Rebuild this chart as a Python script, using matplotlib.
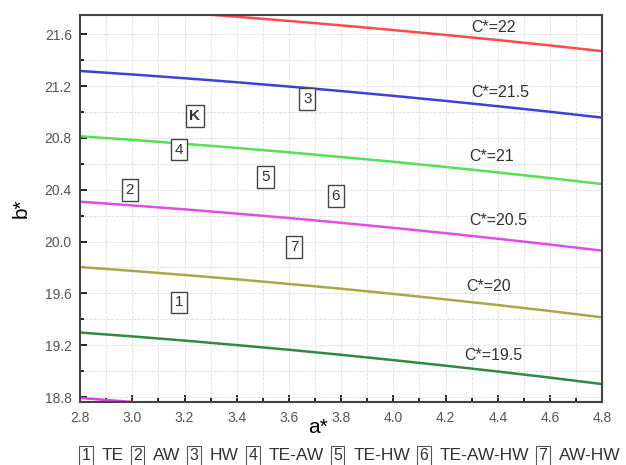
import matplotlib.pyplot as plt
from matplotlib.ticker import MultipleLocator

plt.rcParams['font.family'] = ['Liberation Sans', 'DejaVu Sans']

# a* sample points and b* values
a_vals = [2.8, 3.0, 3.2, 3.4, 3.6, 3.8, 4.0, 4.2, 4.4, 4.6, 4.8]
b_c22 = [21.821, 21.794, 21.766, 21.736, 21.703, 21.669, 21.633, 21.595, 21.556, 21.514, 21.470]
b_c215 = [21.317, 21.290, 21.261, 21.230, 21.197, 21.162, 21.125, 21.086, 21.045, 21.002, 20.957]
b_c21 = [20.813, 20.785, 20.755, 20.723, 20.689, 20.653, 20.616, 20.576, 20.534, 20.490, 20.444]
b_c205 = [20.308, 20.279, 20.249, 20.216, 20.182, 20.145, 20.106, 20.065, 20.022, 19.977, 19.930]
b_c20 = [19.803, 19.774, 19.742, 19.709, 19.673, 19.636, 19.596, 19.554, 19.510, 19.464, 19.415]
b_c195 = [19.298, 19.268, 19.236, 19.201, 19.165, 19.126, 19.085, 19.042, 18.997, 18.950, 18.900]
a_c19 = [2.8, 2.9, 3.0]
b_c19 = [18.793, 18.777, 18.762]

curve_labels = ['C*=22', 'C*=21.5', 'C*=21', 'C*=20.5', 'C*=20', 'C*=19.5']
label_a = [4.30, 4.30, 4.29, 4.29, 4.28, 4.27]
label_b = [21.65, 21.15, 20.66, 20.16, 19.65, 19.12]

box_text = ['1', '2', '3', '4', '5', '6', '7', 'K']
box_a = [3.18, 2.99, 3.67, 3.18, 3.51, 3.78, 3.62, 3.24]
box_b = [19.53, 20.40, 21.10, 20.71, 20.50, 20.35, 19.96, 20.97]

legend_nums = ['1', '2', '3', '4', '5', '6', '7']
legend_names = ['TE', 'AW', 'HW', 'TE-AW', 'TE-HW', 'TE-AW-HW', 'AW-HW']

fig = plt.figure(figsize=(6.26, 4.65), dpi=100)
ax = fig.add_axes([0.128, 0.135, 0.834, 0.833])

ax.plot(a_vals, b_c22, color='#ff4a4a', lw=1.8)
ax.plot(a_vals, b_c215, color='#4040d8', lw=1.8)
ax.plot(a_vals, b_c21, color='#55e055', lw=1.8)
ax.plot(a_vals, b_c205, color='#e050e0', lw=1.8)
ax.plot(a_vals, b_c20, color='#a8a848', lw=1.8)
ax.plot(a_vals, b_c195, color='#2e8a44', lw=1.8)
ax.plot(a_c19, b_c19, color='#e040e0', lw=1.8)

for t, x, y in zip(curve_labels, label_a, label_b):
    ax.text(x, y, t, fontsize=11.5, color='#333333', va='center', ha='left')

for t, x, y in zip(box_text, box_a, box_b):
    ax.text(x, y, t, fontsize=11, color='#333333', ha='center', va='center',
            fontweight='bold' if t == 'K' else 'normal',
            bbox=dict(boxstyle='square,pad=0.25', fc='white', ec='#444444', lw=1))

ax.set_xlim(2.8, 4.8)
ax.set_ylim(18.76, 21.75)
ax.xaxis.set_major_locator(MultipleLocator(0.2))
ax.xaxis.set_minor_locator(MultipleLocator(0.1))
ax.yaxis.set_major_locator(MultipleLocator(0.4))
ax.yaxis.set_minor_locator(MultipleLocator(0.2))
ax.tick_params(which='both', direction='in', labelsize=10, labelcolor='#555555', width=1.2)
ax.tick_params(which='major', length=5, pad=6)
ax.tick_params(which='minor', length=3)
ax.grid(which='both', color='#dddddd', lw=0.6, ls='--')
for s in ax.spines.values():
    s.set_linewidth(1.5)
    s.set_color('#444444')

ax.set_xlabel('a*', fontsize=15, labelpad=0)
ax.xaxis.set_label_coords(0.455, -0.04)
ax.set_ylabel('b*', fontsize=15, labelpad=10)

# bottom legend: boxed numbers followed by names
xpos = 0.13
renderer = fig.canvas.get_renderer()
for num, name in zip(legend_nums, legend_names):
    t = fig.text(xpos, 0.01, num, fontsize=11.5, color='#333333', ha='left',
                 bbox=dict(boxstyle='square,pad=0.15', fc='white', ec='#555555', lw=0.8))
    xpos += t.get_window_extent(renderer).width / fig.bbox.width + 0.018
    t = fig.text(xpos, 0.01, name, fontsize=12.5, color='#333333', ha='left')
    xpos += t.get_window_extent(renderer).width / fig.bbox.width + 0.015

fig.savefig('out.png', dpi=100)
